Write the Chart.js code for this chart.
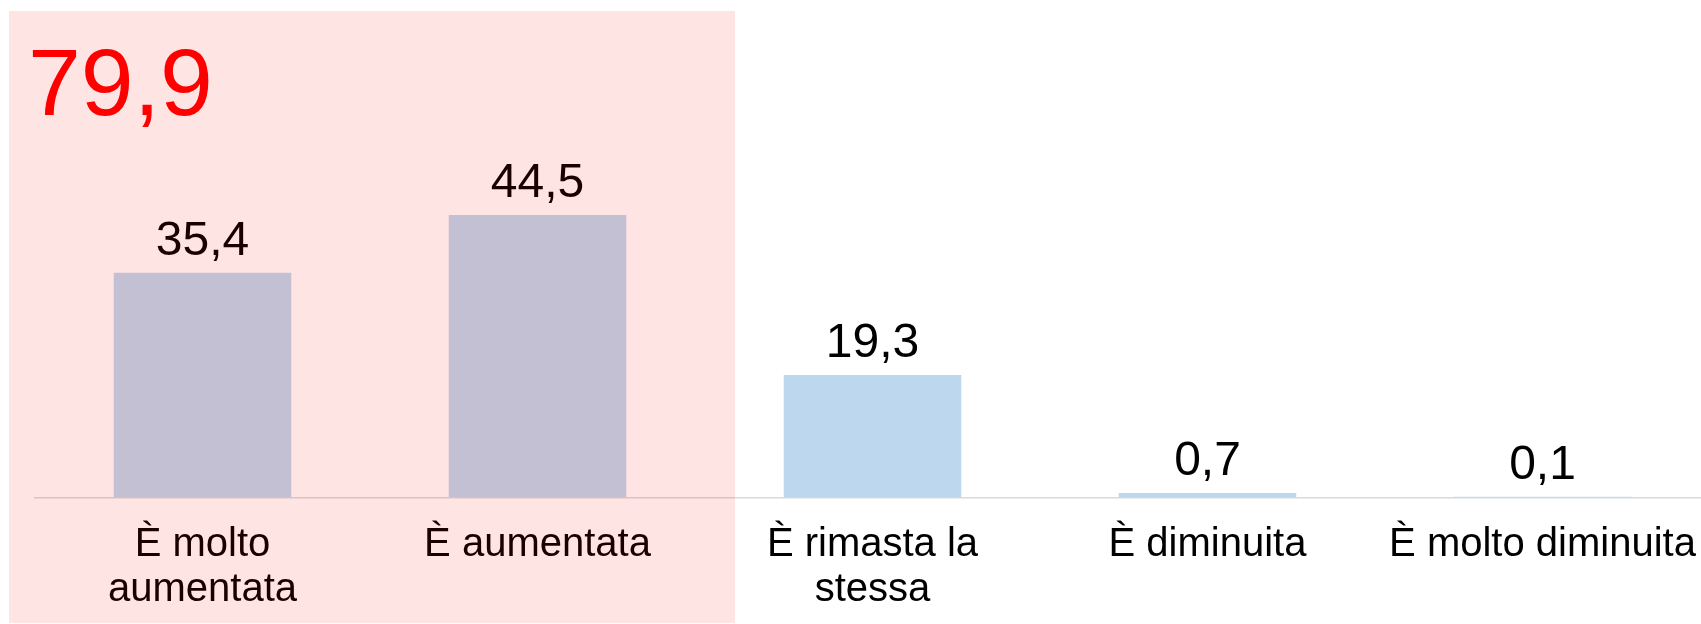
<!DOCTYPE html>
<html>
<head>
<meta charset="utf-8">
<script src="https://cdn.jsdelivr.net/npm/chart.js@4/dist/chart.umd.min.js"></script>
<style>
  html, body { margin: 0; padding: 0; background: #fff; overflow: hidden; }
  #wrap { width: 1710px; height: 624px; }
  canvas { display: block; }
</style>
</head>
<body>
<!-- the plot runs a few pixels past the right edge of the window -->
<div id="wrap"><canvas id="chart" width="1710" height="624"></canvas></div>
<script>
// Survey answers and shares (%)
const categories = [["È molto", "aumentata"], "È aumentata", ["È rimasta la", "stessa"], "È diminuita", "È molto diminuita"];
const values = [35.4, 44.5, 19.3, 0.7, 0.1];
// The first answers are grouped and their total is shown in the shaded block
const groupedCount = 2;

const FONT = "'Liberation Sans', Arial, Helvetica, sans-serif";
const fmt = v => v.toFixed(1).replace('.', ',');

// Value labels above each bar
const valueLabels = {
  id: 'valueLabels',
  afterDatasetsDraw(chart) {
    const ctx = chart.ctx;
    const meta = chart.getDatasetMeta(0);
    ctx.save();
    ctx.font = '48px ' + FONT;
    ctx.fillStyle = '#000';
    ctx.textAlign = 'center';
    ctx.textBaseline = 'alphabetic';
    meta.data.forEach((bar, i) => {
      ctx.fillText(fmt(values[i]), bar.x, bar.y - 18);
    });
    ctx.restore();
  }
};

// Translucent red block over the grouped answers, with their total
const groupBlock = {
  id: 'groupBlock',
  afterDraw(chart) {
    const ctx = chart.ctx;
    const x = chart.scales.x;
    const step = x.getPixelForValue(1) - x.getPixelForValue(0);
    const left = x.getPixelForValue(0) - step / 2 - 26;
    const right = x.getPixelForValue(groupedCount - 1) + step / 2 + 30;
    const top = 11, bottom = 623;
    ctx.save();
    ctx.fillStyle = 'rgba(255, 0, 0, 0.105)';
    ctx.fillRect(left, top, right - left, bottom - top);
    const total = values.slice(0, groupedCount).reduce((a, b) => a + b, 0);
    ctx.font = '95px ' + FONT;
    ctx.fillStyle = '#ff0000';
    ctx.textAlign = 'left';
    ctx.textBaseline = 'alphabetic';
    ctx.fillText(fmt(total), left + 19, 115);
    ctx.restore();
  }
};

new Chart(document.getElementById('chart'), {
  type: 'bar',
  data: {
    labels: categories,
    datasets: [{
      data: values,
      backgroundColor: '#bdd7ee',
      borderWidth: 0,
      barPercentage: 0.53,
      categoryPercentage: 1
    }]
  },
  options: {
    responsive: false,
    animation: false,
    devicePixelRatio: 1,
    layout: { padding: { left: 35, right: 0, top: 53, bottom: -12.5 } },
    plugins: { legend: { display: false }, tooltip: { enabled: false } },
    scales: {
      x: {
        grid: { display: false, drawTicks: false },
        border: { display: true, color: '#d9d9d9', width: 1.5 },
        ticks: {
          color: '#000',
          font: { family: FONT, size: 40, lineHeight: 1.125 },
          padding: 24.5,
          maxRotation: 0,
          autoSkip: false
        },
        // keep equal category widths right up to the edge
        afterFit(scale) { scale.paddingLeft = 0; scale.paddingRight = 0; }
      },
      y: {
        display: false,
        min: 0,
        max: 70
      }
    }
  },
  plugins: [valueLabels, groupBlock]
});
</script>
</body>
</html>
